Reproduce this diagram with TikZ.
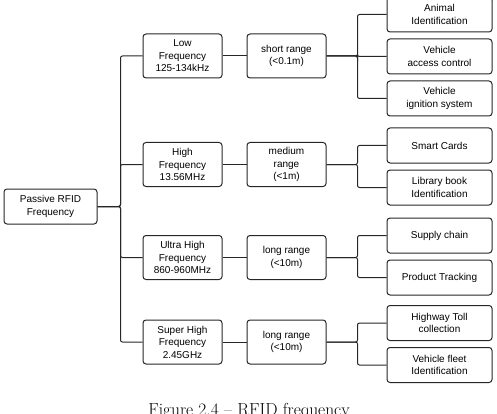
\documentclass[tikz,border=0pt]{standalone}
\usepackage{fontspec}
\newfontfamily\boxfont{Liberation Sans}
\usetikzlibrary{positioning}

\tikzset{
  box/.style={draw=black!85, line width=1pt, rounded corners=3pt, align=center,
    font=\boxfont\fontsize{10}{12.5}\selectfont, inner sep=1pt},
  midbox/.style={box, minimum width=79pt, minimum height=44pt},
  leafbox/.style={box, minimum width=105pt, minimum height=35pt},
  link/.style={draw=black!85, line width=1pt, rounded corners=2pt}
}

\begin{document}
\begin{tikzpicture}[x=1pt,y=-1pt]
        \useasboundingbox (0,0) rectangle (497,414);
        \node[box, minimum width=93pt, minimum height=35pt] (root) at (50.5,206.5) {Passive RFID\\Frequency};
        % frequency bands
        \node[midbox] (lf) at (182.5,56) {Low\\Frequency\\125-134kHz};
        \node[midbox] (hf) at (182.5,164.5) {High\\Frequency\\13.56MHz};
        \node[midbox] (uhf) at (182.5,257.5) {Ultra High\\Frequency\\860-960MHz};
        \node[midbox] (shf) at (182.5,342) {Super High\\Frequency\\2.45GHz};
        % read ranges
        \node[midbox] (shortr) at (286.5,56) {short range\\(<0.1m)};
        \node[midbox] (medr) at (286.5,164.5) {medium\\range\\(<1m)};
        \node[midbox] (longr) at (286.5,257.5) {long range\\(<10m)};
        \node[midbox] (longrb) at (286.5,342) {long range\\(<10m)};
        % applications
        \node[leafbox] (animal) at (439.5,14.5) {Animal\\Identification};
        \node[leafbox, below=6pt of animal] (access) {Vehicle\\access control};
        \node[leafbox, below=6pt of access] (ignition) {Vehicle\\ignition system};
        \node[leafbox] (smart) at (439.5,145.5) {Smart Cards};
        \node[leafbox, below=6pt of smart] (library) {Library book\\Identification};
        \node[leafbox] (supply) at (439.5,235.5) {Supply chain};
        \node[leafbox, below=6pt of supply] (tracking) {Product Tracking};
        \node[leafbox] (toll) at (439.5,323) {Highway Toll\\collection};
        \node[leafbox, below=6pt of toll] (fleet) {Vehicle fleet\\Identification};

        \foreach \b in {lf,hf,uhf,shf}
          \draw[link] (root.east) -- ++(23,0) |- (\b.west);
        \draw[link] (lf) -- (shortr);
        \draw[link] (hf) -- (medr);
        \draw[link] (uhf) -- (longr);
        \draw[link] (shf) -- (longrb);
        \foreach \b in {animal,access,ignition}
          \draw[link] (shortr.east) -- ++(31,0) |- (\b.west);
        \foreach \b in {smart,library}
          \draw[link] (medr.east) -- ++(31,0) |- (\b.west);
        \foreach \b in {supply,tracking}
          \draw[link] (longr.east) -- ++(31,0) |- (\b.west);
        \foreach \b in {toll,fleet}
          \draw[link] (longrb.east) -- ++(31,0) |- (\b.west);

        \node[anchor=base, font=\fontsize{17.4}{20}\selectfont] (caption) at (249,415.6) {Figure 2.4 -- RFID frequency};
\end{tikzpicture}
\end{document}
